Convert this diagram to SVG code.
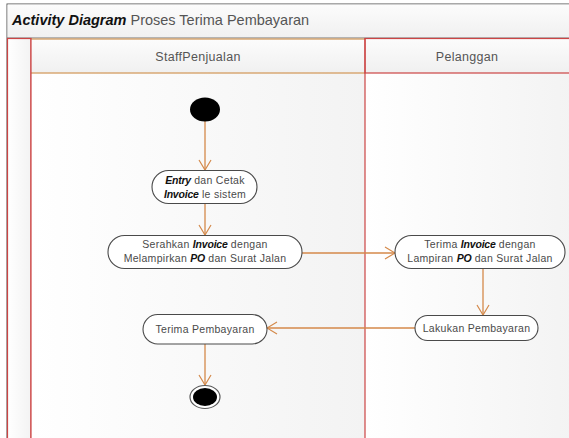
<svg xmlns="http://www.w3.org/2000/svg" width="569" height="438" viewBox="0 0 569 438">
  <defs>
    <linearGradient id="laneFill" x1="0" y1="0" x2="1" y2="0">
      <stop offset="0" stop-color="#ffffff"/>
      <stop offset="1" stop-color="#f3f3f3"/>
    </linearGradient>
    <linearGradient id="barFill" x1="0" y1="0" x2="0" y2="1">
      <stop offset="0" stop-color="#fcfcfc"/>
      <stop offset="1" stop-color="#f0f0f0"/>
    </linearGradient>
    <marker id="arrow" markerWidth="12" markerHeight="14" refX="11" refY="7" orient="auto" markerUnits="userSpaceOnUse">
      <path d="M1,1 L11,7 L1,13" fill="none" stroke="#d4894a" stroke-width="1.2"/>
    </marker>
  </defs>
  <style>
    .flow { fill: none; stroke: #d4894a; stroke-width: 1.3; marker-end: url(#arrow); }
    .action { fill: #ffffff; stroke: #4a4a4a; stroke-width: 1.1; }
    .label { font-family: "Liberation Sans", Arial, sans-serif; font-size: 10.5px; fill: #4a4a4a; text-anchor: middle; letter-spacing: 0.3px; }
    .em { font-weight: bold; font-style: italic; fill: #111111; letter-spacing: -0.2px; }
    .lane-title { font-family: "Liberation Sans", Arial, sans-serif; font-size: 12.5px; fill: #555555; text-anchor: middle; letter-spacing: 0.3px; }
  </style>

  <!-- page background -->
  <rect x="0" y="0" width="569" height="438" fill="#ffffff"/>

  <!-- frame with title bar -->
  <g id="frame">
    <rect x="7" y="4" width="570" height="440" fill="#f5f5f5" stroke="#555555" stroke-width="1"/>
    <rect x="7.5" y="4.5" width="570" height="33.5" fill="url(#barFill)"/>
    <line x1="7" y1="38" x2="569" y2="38" stroke="#777777" stroke-width="1"/>
    <text x="12" y="25" font-family="Liberation Sans, Arial, sans-serif" font-size="14.5px" fill="#555555"><tspan font-weight="bold" font-style="italic" fill="#111111">Activity Diagram</tspan> Proses Terima Pembayaran</text>
  </g>

  <!-- swimlanes -->
  <g id="lanes">
    <rect x="7.5" y="38.5" width="23.5" height="402" fill="url(#laneFill)" stroke="#cc4444" stroke-width="1.2"/>
    <g id="lane-staff">
      <rect x="31" y="73" width="334" height="368" fill="url(#laneFill)"/>
      <rect x="31" y="39" width="334" height="34" fill="url(#barFill)"/>
      <line x1="31" y1="39" x2="365" y2="39" stroke="#d9a874" stroke-width="1.5"/>
      <line x1="31" y1="73" x2="365" y2="73" stroke="#d9a874" stroke-width="1.5"/>
      <text class="lane-title" x="198" y="61">StaffPenjualan</text>
    </g>
    <g id="lane-pelanggan">
      <rect x="365" y="73" width="210" height="368" fill="url(#laneFill)"/>
      <rect x="365" y="38.5" width="210" height="34.5" fill="url(#barFill)" stroke="#cc4444" stroke-width="1.2"/>
      <text class="lane-title" x="467" y="61">Pelanggan</text>
    </g>
    <line x1="31" y1="38" x2="31" y2="438" stroke="#cc4444" stroke-width="1.2"/>
    <line x1="365" y1="38" x2="365" y2="438" stroke="#cc4444" stroke-width="1.2"/>
  </g>

  <!-- control flows -->
  <g id="connectors">
    <path class="flow" d="M205,121 L205,170"/>
    <path class="flow" d="M205,203 L205,235"/>
    <path class="flow" d="M302,253 L395,253"/>
    <path class="flow" d="M483,268 L483,315"/>
    <path class="flow" d="M415,328 L267,328"/>
    <path class="flow" d="M205,344 L205,385"/>
  </g>

  <!-- nodes -->
  <g id="start">
    <ellipse cx="205" cy="109.5" rx="15" ry="12" fill="#000000"/>
  </g>

  <g id="entry-invoice">
    <rect class="action" x="152" y="170.5" width="105" height="33" rx="16.5"/>
    <text class="label" x="205" y="184"><tspan class="em">Entry</tspan> dan Cetak</text>
    <text class="label" x="205" y="198"><tspan class="em">Invoice</tspan> le sistem</text>
  </g>

  <g id="serahkan-invoice">
    <rect class="action" x="108" y="235.5" width="194" height="33" rx="16.5"/>
    <text class="label" x="205" y="248">Serahkan <tspan class="em">Invoice</tspan> dengan</text>
    <text class="label" x="205" y="262">Melampirkan <tspan class="em">PO</tspan> dan Surat Jalan</text>
  </g>

  <g id="terima-invoice">
    <rect class="action" x="395" y="235.5" width="170" height="33" rx="16.5"/>
    <text class="label" x="480" y="248">Terima <tspan class="em">Invoice</tspan> dengan</text>
    <text class="label" x="480" y="262">Lampiran <tspan class="em">PO</tspan> dan Surat Jalan</text>
  </g>

  <g id="lakukan-pembayaran">
    <rect class="action" x="415" y="315.5" width="123" height="25" rx="12.5"/>
    <text class="label" x="476.5" y="332">Lakukan Pembayaran</text>
  </g>

  <g id="terima-pembayaran">
    <rect class="action" x="143" y="314.5" width="124" height="29.5" rx="14.75"/>
    <text class="label" x="205" y="333">Terima Pembayaran</text>
  </g>

  <g id="end">
    <ellipse cx="205" cy="397" rx="15" ry="11.5" fill="#ffffff" stroke="#555555" stroke-width="1.2"/>
    <ellipse cx="205" cy="397" rx="12" ry="9" fill="#000000"/>
  </g>
</svg>
